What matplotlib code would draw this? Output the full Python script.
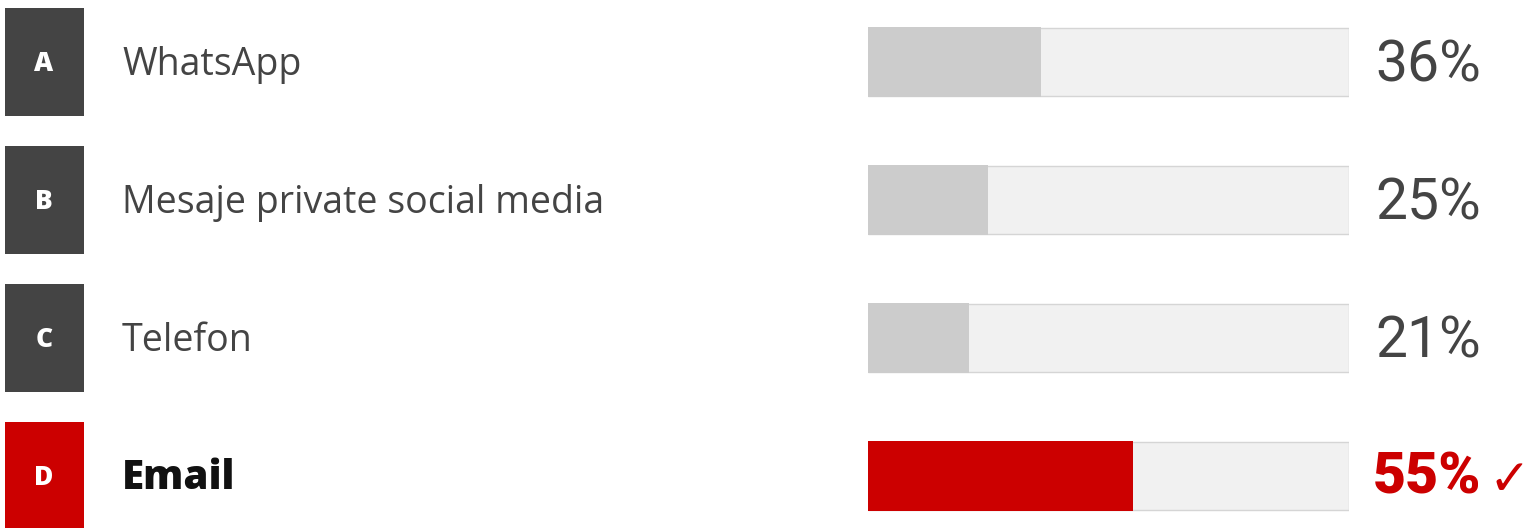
import matplotlib
matplotlib.use('Agg')
import matplotlib.pyplot as plt
from matplotlib.patches import Rectangle

# date
letters = ['A', 'B', 'C', 'D']
labels = ['WhatsApp', 'Mesaje private social media', 'Telefon', 'Email']
values = [36, 25, 21, 55]
correct = 3  # Email

W, H = 1528, 528
fig = plt.figure(figsize=(W / 100, H / 100), dpi=100)
ax = fig.add_axes([0, 0, 1, 1])
ax.set_xlim(0, W)
ax.set_ylim(H, 0)
ax.axis('off')

# bare: axa separata, 0..100
bx0, bx1 = 868, 1349
axb = fig.add_axes([bx0 / W, 0, (bx1 - bx0) / W, 1])
axb.set_xlim(0, 100)
axb.set_ylim(H, 0)
axb.axis('off')

red = '#cc0000'
dark = '#444444'

for i, (let, lab, v) in enumerate(zip(letters, labels, values)):
    yc = 62 + 138 * i
    ok = i == correct
    # patratul cu litera
    ax.add_patch(Rectangle((5, yc - 54), 79, 108, color=red if ok else dark, lw=0))
    ax.text(44, yc + 9, let, color='white', fontsize=19, fontweight='heavy',
            family='Open Sans', ha='center', va='baseline')
    # eticheta
    ax.text(122, yc + 13, lab, color='#111111' if ok else dark, fontsize=29 if ok else 27,
            fontweight='heavy' if ok else 'normal', family='Open Sans',
            ha='left', va='baseline')
    # bara
    axb.barh(yc, 100, height=68, color='#f1f1f1', edgecolor='#d5d5d5', lw=1)
    axb.barh(yc, v, height=70, color=red if ok else '#cccccc', lw=0)
    # procent
    if ok:
        ax.text(1481, yc + 18, f'{v}%', color=red, fontsize=41, fontweight='black',
                family='Roboto', ha='right', va='baseline')
        ax.text(1489, yc + 19, '\u2713', color=red, fontsize=36,
                family=['DejaVu Sans'], ha='left', va='baseline')
    else:
        ax.text(1481, yc + 20, f'{v}%', color=dark, fontsize=41, fontweight='normal',
                family='Roboto', ha='right', va='baseline')

fig.savefig('out.png', dpi=100)
